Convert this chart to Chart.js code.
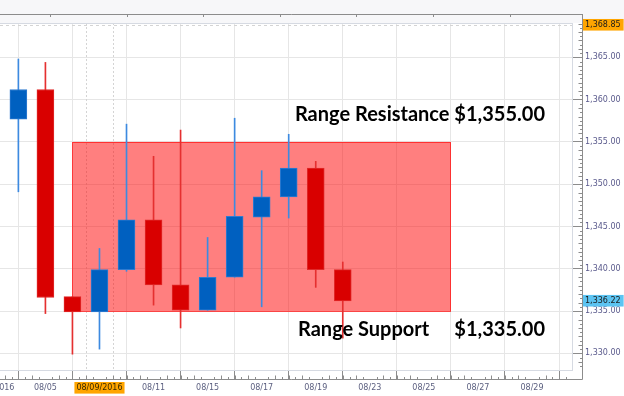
<!DOCTYPE html>
<html>
<head>
<meta charset="utf-8">
<script src="https://cdn.jsdelivr.net/npm/chart.js@4.4.0/dist/chart.umd.min.js"></script>
<style>
  html, body { margin: 0; padding: 0; background: #fff; }
  #grafico { display: block; }
</style>
</head>
<body>
<canvas id="grafico" width="624" height="396"></canvas>
<script>
// dates for each slot on the x axis, the first one sits at slot -1
const slotDates = ['08/03/2016', '08/04', '08/05', '08/08', '08/09/2016', '08/10', '08/11', '08/12', '08/15', '08/16', '08/17',
  '08/18', '08/19', '08/22', '08/23', '08/24', '08/25', '08/26', '08/27', '08/28', '08/29', '08/30'];

// daily candles, slot 0 = 08/04 ... slot 12 = 08/22
const opens  = [1357.7, 1361.2, 1336.7, 1334.9, 1339.9, 1345.8, 1338.1, 1335.1, 1339.0, 1346.1, 1348.5, 1351.9, 1339.9];
const highs  = [1364.8, 1364.4, 1336.7, 1342.4, 1357.1, 1353.3, 1356.4, 1343.7, 1357.8, 1351.6, 1355.9, 1352.7, 1340.8];
const lows   = [1349.1, 1334.7, 1329.9, 1330.5, 1339.7, 1335.7, 1333.0, 1335.1, 1339.0, 1335.5, 1346.0, 1337.8, 1331.8];
const closes = [1361.2, 1336.6, 1334.9, 1339.9, 1345.8, 1338.1, 1335.1, 1339.0, 1346.2, 1348.5, 1351.9, 1339.9, 1336.2];

// range box
const resistance = 1355;
const support = 1335;
const rangeStart = 2;   // 08/08
const rangeEnd = 16;    // 08/26

const xTickSlots = [-1, 1, 3, 5, 7, 9, 11, 13, 15, 17, 19];
const yTickValues = [1330, 1335, 1340, 1345, 1350, 1355, 1360, 1365];
const lastPrice = 1336.22;
const topPrice = 1368.85;
const selectedSlot = 3; // 08/09/2016

const upColor = '#0060c0';
const downColor = '#d90000';

function fmt(v) {
  return v.toLocaleString('en-US', { minimumFractionDigits: 2, maximumFractionDigits: 2 });
}

function isSpecial(ctx) {
  return !!ctx.tick && (ctx.tick.value === lastPrice || ctx.tick.value === topPrice);
}

const bodyColors = opens.map((o, i) => closes[i] >= o ? upColor : downColor);
const bodyBorders = opens.map((o, i) => closes[i] >= o ? '#2f7bd0' : '#e02a2a');
const wickColors = opens.map((o, i) => closes[i] >= o ? '#3d8ae0' : '#e53030');

const frame = {
  id: 'frame',
  beforeDraw(chart) {
    const ctx = chart.ctx;
    const a = chart.chartArea;
    ctx.save();
    ctx.fillStyle = '#f7f7f9';
    ctx.fillRect(0, 0, chart.width, a.top);
    ctx.restore();
  },
  beforeDatasetsDraw(chart) {
    const ctx = chart.ctx;
    const a = chart.chartArea;
    const x = chart.scales.x;
    const y = chart.scales.y;
    ctx.save();
    // dotted marks around the selected day
    ctx.strokeStyle = '#d4d4d4';
    ctx.lineWidth = 1;
    ctx.setLineDash([2, 2]);
    [selectedSlot - 0.5, selectedSlot + 0.5].forEach(function (s) {
      const px = Math.round(x.getPixelForValue(s)) + 0.5;
      ctx.beginPath();
      ctx.moveTo(px, a.top);
      ctx.lineTo(px, a.bottom);
      ctx.stroke();
    });
    // dashed line at the top price
    ctx.setLineDash([3, 3]);
    const ty = Math.round(y.getPixelForValue(topPrice)) + 0.5;
    ctx.beginPath();
    ctx.moveTo(a.left, ty);
    ctx.lineTo(a.right, ty);
    ctx.stroke();
    ctx.setLineDash([]);

    // range rectangle
    const x0 = x.getPixelForValue(rangeStart);
    const x1 = x.getPixelForValue(rangeEnd);
    const y0 = y.getPixelForValue(resistance);
    const y1 = y.getPixelForValue(support);
    ctx.fillStyle = 'rgba(255, 0, 0, 0.5)';
    ctx.fillRect(x0, y0, x1 - x0, y1 - y0);
    ctx.strokeStyle = 'rgba(255, 30, 30, 0.8)';
    ctx.strokeRect(Math.round(x0) + 0.5, Math.round(y0) + 0.5, Math.round(x1 - x0), Math.round(y1 - y0));
    ctx.restore();
  },
  afterDatasetsDraw(chart) {
    const ctx = chart.ctx;
    ctx.save();
    ctx.fillStyle = '#000';
    ctx.font = 'bold 20px Lato';
    ctx.textBaseline = 'alphabetic';
    ctx.textAlign = 'right';
    ctx.fillText('Range Resistance $' + fmt(resistance), 545, 121);
    ctx.fillText('$' + fmt(support), 545, 336);
    ctx.textAlign = 'left';
    ctx.fillText('Range Support', 298, 336);
    ctx.restore();
  },
  afterDraw(chart) {
    const ctx = chart.ctx;
    const a = chart.chartArea;
    const x = chart.scales.x;
    const y = chart.scales.y;
    const bottom = a.bottom + 9.5;
    const right = a.right + 10.5;
    ctx.save();
    ctx.lineWidth = 1;

    // inner top border
    ctx.beginPath();
    ctx.strokeStyle = '#d6dae2';
    ctx.moveTo(a.left, a.top + 0.5);
    ctx.lineTo(a.right, a.top + 0.5);
    ctx.stroke();

    ctx.strokeStyle = '#8c8c8c';
    ctx.beginPath();
    // top line
    ctx.moveTo(0, 14.5);
    ctx.lineTo(right, 14.5);
    // right axis line
    ctx.moveTo(right, 14);
    ctx.lineTo(right, bottom);
    // bottom axis line
    ctx.moveTo(0, bottom);
    ctx.lineTo(right, bottom);
    ctx.stroke();

    // top small ticks
    ctx.beginPath();
    for (let px = 50; px < right; px += 76.6) {
      ctx.moveTo(Math.round(px) + 0.5, 14);
      ctx.lineTo(Math.round(px) + 0.5, 17);
    }
    ctx.stroke();

    // minor ticks on the x axis
    ctx.beginPath();
    for (let s = -0.75; s <= x.max; s += 0.25) {
      if (xTickSlots.includes(s)) continue;
      const px = Math.round(x.getPixelForValue(s)) + 0.5;
      const len = Number.isInteger(s * 2) ? 4 : 2.5;
      ctx.moveTo(px, bottom);
      ctx.lineTo(px, bottom - len);
    }
    ctx.stroke();

    // minor ticks on the y axis
    ctx.beginPath();
    for (let v = Math.ceil(y.min * 2) / 2; v <= y.max; v += 0.5) {
      if (v % 5 === 0) continue;
      const py = Math.round(y.getPixelForValue(v)) + 0.5;
      const len = Number.isInteger(v) ? 4 : 2.5;
      ctx.moveTo(right, py);
      ctx.lineTo(right - len, py);
    }
    ctx.stroke();
    ctx.restore();
  }
};

const grafico = new Chart(document.getElementById('grafico'), {
  type: 'bar',
  data: {
    datasets: [
      {
        label: 'wick',
        data: lows.map((l, i) => ({ x: i, y: [l, highs[i]] })),
        backgroundColor: wickColors,
        barThickness: 1,
        grouped: false,
        order: 2
      },
      {
        label: 'body',
        data: opens.map((o, i) => ({ x: i, y: [o, closes[i]] })),
        backgroundColor: bodyColors,
        borderColor: bodyBorders,
        borderWidth: 1,
        borderSkipped: false,
        barThickness: 17,
        grouped: false,
        order: 1
      }
    ]
  },
  options: {
    responsive: false,
    animation: false,
    devicePixelRatio: 1,
    layout: { padding: { top: 23, left: 0, right: 0, bottom: 0 } },
    plugins: {
      legend: { display: false },
      tooltip: { enabled: false }
    },
    scales: {
      x: {
        type: 'linear',
        min: -0.68,
        max: 20.48,
        offset: false,
        afterBuildTicks: function (scale) {
          scale.ticks = xTickSlots.map(v => ({ value: v }));
        },
        afterFit: function (scale) {
          scale.height = 26;
          // the first label is allowed to run off the left edge
          scale.paddingLeft = 0;
          scale.paddingRight = 0;
        },
        grid: {
          color: '#e6e6e6',
          tickColor: '#8c8c8c',
          tickLength: 10
        },
        border: { color: '#d6dae2' },
        ticks: {
          autoSkip: false,
          maxRotation: 0,
          padding: 3,
          font: { family: 'DejaVu Sans', size: 8 },
          color: ctx => ctx.tick && ctx.tick.value === selectedSlot ? '#3a2a00' : '#5c6080',
          showLabelBackdrop: ctx => !!ctx.tick && ctx.tick.value === selectedSlot,
          backdropColor: '#ffa500',
          backdropPadding: { left: 2, right: 2, top: 1, bottom: 1 },
          callback: v => slotDates[v + 1]
        }
      },
      y: {
        position: 'right',
        min: 1328.03,
        max: 1369.06,
        afterBuildTicks: function (scale) {
          scale.ticks = yTickValues.concat([lastPrice, topPrice]).map(v => ({ value: v }));
        },
        afterFit: function (scale) {
          scale.width = 52;
          scale.paddingTop = 0;
          scale.paddingBottom = 0;
        },
        grid: {
          color: ctx => isSpecial(ctx) ? 'rgba(0,0,0,0)' : '#e6e6e6',
          tickColor: ctx => isSpecial(ctx) ? 'rgba(0,0,0,0)' : '#8c8c8c',
          tickLength: 10
        },
        border: { color: '#d6dae2' },
        ticks: {
          autoSkip: false,
          padding: 3,
          font: { family: 'DejaVu Sans', size: 8 },
          color: ctx => isSpecial(ctx) ? '#1a1a1a' : '#5a5a8c',
          showLabelBackdrop: ctx => isSpecial(ctx),
          backdropColor: ctx => ctx.tick && ctx.tick.value === lastPrice ? '#5cc4f2' : '#ffa500',
          backdropPadding: { left: 2, right: 3, top: 1, bottom: 1 },
          callback: v => fmt(v)
        }
      }
    }
  },
  plugins: [frame]
});
</script>
</body>
</html>
